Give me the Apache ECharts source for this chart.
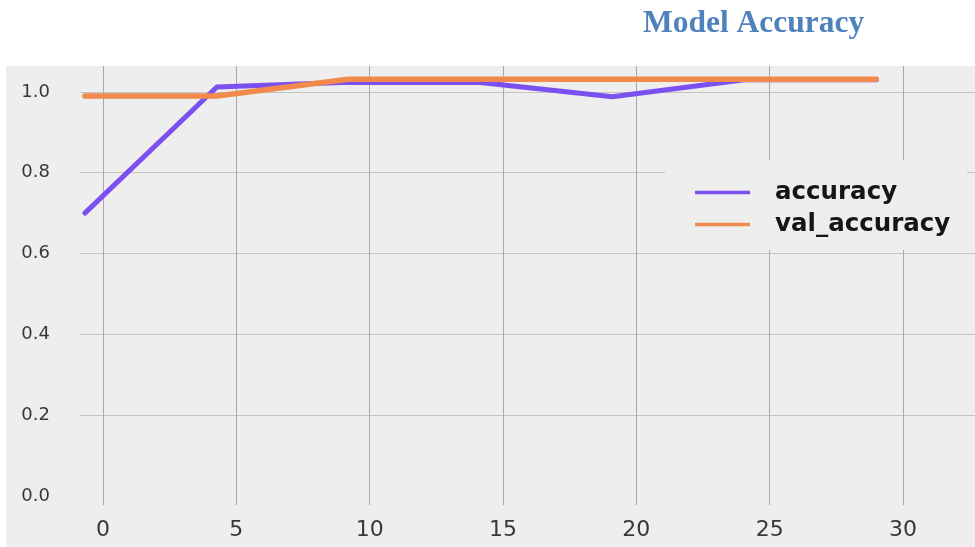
<!DOCTYPE html>
<html>
<head>
<meta charset="utf-8">
<title>Model Accuracy</title>
<script src="https://cdn.jsdelivr.net/npm/echarts@6/dist/echarts.min.js"></script>
<style>
  html, body { margin: 0; padding: 0; background: #fff; }
  #chart { width: 975px; height: 547px; }
</style>
</head>
<body>
<div id="chart"></div>
<script>
const epochs = [-0.68, 4.27, 9.2, 14.15, 19.1, 24.05, 29.0]
const accuracy = [0.70, 1.012, 1.024, 1.023, 0.988, 1.03, 1.03]
const valAccuracy = [0.99, 0.99, 1.031, 1.031, 1.031, 1.031, 1.031]
const xTicks = [0, 5, 10, 15, 20, 25, 30]

const chart = echarts.init(document.getElementById('chart'))

function pairs (ys) {
  return epochs.map((x, i) => [x, ys[i]])
}

chart.setOption({
  animation: false,
  title: {
    text: 'Model Accuracy',
    left: 638,
    top: 3,
    textStyle: {
      fontFamily: 'Liberation Serif',
      fontWeight: 'bold',
      fontSize: 31.5,
      color: '#4f81bd'
    }
  },
  graphic: [{
    type: 'rect',
    z: -10,
    shape: { x: 6, y: 66, width: 969, height: 481 },
    style: { fill: '#eeeeee' }
  }],
  legend: {
    orient: 'vertical',
    left: 665,
    top: 160,
    padding: [20, 17, 13, 30],
    backgroundColor: '#eeeeee',
    itemGap: 7,
    itemWidth: 55,
    itemHeight: 3.5,
    icon: 'rect',
    textStyle: {
      fontFamily: 'DejaVu Sans',
      fontWeight: 'bold',
      fontSize: 24.5,
      color: '#151515',
      padding: [0, 0, 0, 20]
    },
    data: ['accuracy', 'val_accuracy']
  },
  grid: {
    left: 80,
    right: 0,
    top: 66,
    bottom: 51
  },
  xAxis: {
    type: 'value',
    min: -0.8625,
    max: 32.7,
    axisLine: { show: false },
    axisTick: {
      show: true,
      length: 9,
      customValues: xTicks,
      lineStyle: { color: '#a8a8a8', width: 1 }
    },
    axisLabel: {
      customValues: xTicks,
      margin: 23,
      fontFamily: 'DejaVu Sans',
      fontSize: 22,
      color: '#383838'
    },
    splitLine: {
      show: true,
      lineStyle: { color: '#a8a8a8', width: 1 }
    }
  },
  yAxis: {
    type: 'value',
    min: 0,
    max: 1.064,
    interval: 0.2,
    axisLine: { show: false },
    axisTick: { show: false },
    axisLabel: {
      showMaxLabel: false,
      margin: 30,
      fontFamily: 'DejaVu Sans',
      fontSize: 18,
      color: '#383838',
      formatter: v => v.toFixed(1)
    },
    splitLine: {
      show: true,
      showMinLine: false,
      showMaxLine: false,
      lineStyle: { color: '#c4c4c4', width: 1 }
    }
  },
  series: [{
    name: 'accuracy',
    type: 'line',
    symbol: 'none',
    clip: false,
    color: '#7b4ff0',
    lineStyle: { width: 5, color: '#7b4ff0', cap: 'round', join: 'round' },
    data: pairs(accuracy)
  }, {
    name: 'val_accuracy',
    type: 'line',
    symbol: 'none',
    clip: false,
    color: '#f28a4e',
    lineStyle: { width: 5.5, color: '#f28a4e', cap: 'round', join: 'round' },
    data: pairs(valAccuracy)
  }]
})
</script>
</body>
</html>
